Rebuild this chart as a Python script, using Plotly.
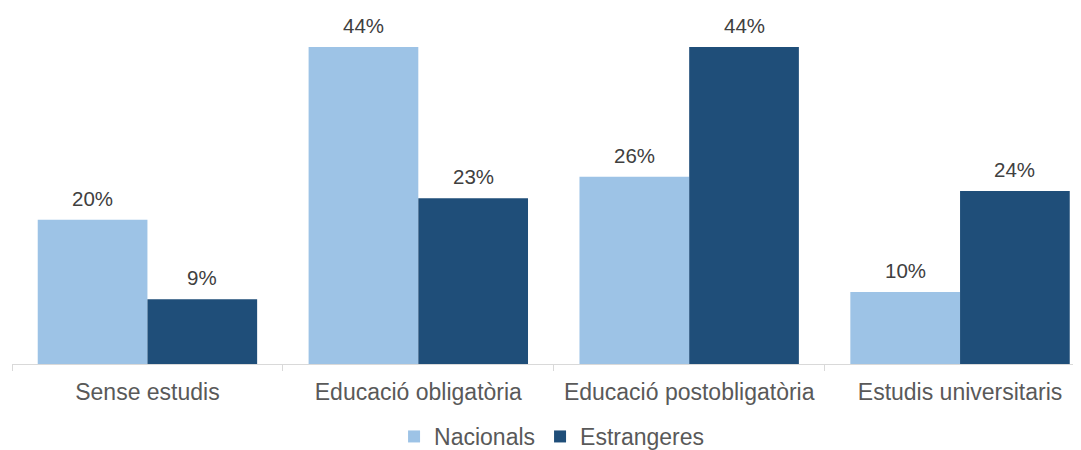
import plotly.graph_objects as go

categories = ["Sense estudis", "Educació obligatòria", "Educació postobligatòria", "Estudis universitaris"]
nacionals = [20, 44, 26, 10]
estrangeres = [9, 23, 44, 24]
series_names = ["Nacionals", "Estrangeres"]
colors = ["#9DC3E6", "#1F4E79"]

BARGAP = 0.19
bar_w = (1 - BARGAP) / 2
FONT = "Liberation Sans, Arial, sans-serif"

fig = go.Figure()
for name, vals, col in zip(series_names, [nacionals, estrangeres], colors):
    fig.add_trace(go.Bar(
        x=categories, y=vals, name=name,
        marker=dict(color=col, line=dict(width=0)),
        hoverinfo="skip",
    ))

annotations = []
for si, vals in enumerate([nacionals, estrangeres]):
    off = (si - 0.5) * bar_w
    for ci, v in enumerate(vals):
        annotations.append(dict(
            x=ci + off, y=v, xref="x", yref="y",
            text=f"{v}%", showarrow=False,
            yanchor="bottom", yshift=8,
            font=dict(family=FONT, size=20.5, color="#404040"),
        ))

# the page body keeps its default 8px margin, so the figure is offset by 8px
fig.update_layout(
    template="none",
    width=1065, height=450,
    margin=dict(l=3.5, r=0, t=0, b=93, pad=0),
    paper_bgcolor="white", plot_bgcolor="white",
    barmode="group", bargap=BARGAP, bargroupgap=0,
    font=dict(family=FONT, color="#595959"),
    showlegend=True,
    legend=dict(
        orientation="h", x=0.509, xanchor="center", y=-0.2045, yanchor="middle",
        font=dict(family=FONT, size=23, color="#595959"),
        itemclick=False, itemdoubleclick=False,
        bgcolor="rgba(0,0,0,0)",
    ),
    annotations=annotations,
    xaxis=dict(
        type="category", range=[-0.5, 3.417], automargin=False,
        showline=True, linecolor="#D9D9D9", linewidth=1,
        ticks="outside", tickson="boundaries", ticklen=6, tickcolor="#D9D9D9", tickwidth=1,
        tickfont=dict(family=FONT, size=23, color="#595959"),
        ticklabelstandoff=7,
        showgrid=False, zeroline=False,
    ),
    yaxis=dict(
        range=[0, 49.4], visible=False, showgrid=False, zeroline=False, automargin=False,
    ),
)

fig.write_html("out.html")
